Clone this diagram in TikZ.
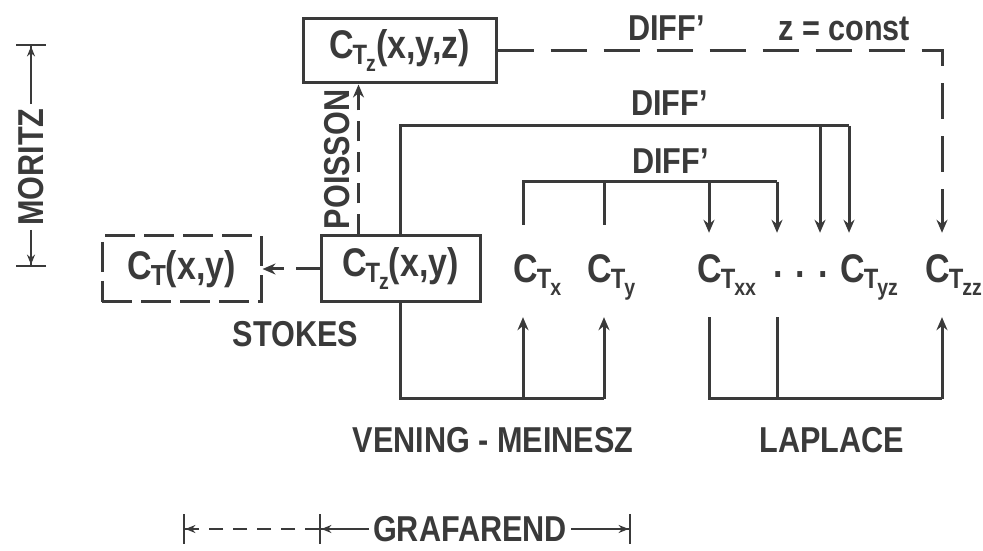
\documentclass[tikz,border=0pt]{standalone}
\usepackage{fontspec}
\setmainfont{Liberation Sans}[FakeStretch=0.85]
\usetikzlibrary{arrows.meta, calc, positioning}
\definecolor{inkcol}{RGB}{58, 58, 58}
\newcommand{\wordfont}{\fontsize{36}{40}\selectfont\bfseries}
\newcommand{\symfont}{\fontsize{40}{44}\selectfont\bfseries}
% C with a T below it, and the T's own index below that
\newcommand{\CTo}{C\kern-1pt\raisebox{-6pt}{\fontsize{29}{29}\selectfont T}}
\newcommand{\CT}[1]{C\kern-1pt\raisebox{-6pt}{\fontsize{28}{28}\selectfont
  T\kern-1pt\raisebox{-7pt}{\fontsize{23}{23}\selectfont #1}}}
\tikzset{
  box/.style   = {draw=inkcol, line width=3pt, text=inkcol, font=\symfont,
                  inner sep=0pt},
  gbox/.style  = {box, minimum width=159pt, minimum height=66pt},
  ghost/.style = {gbox, dash pattern=on 30pt off 9pt},
  % the row of coefficients: fixed height so that every connector stops
  % at the same level above and below
  coef/.style  = {text=inkcol, font=\symfont, anchor=base west,
                  inner xsep=0pt, inner ysep=22pt,
                  text height=28pt, text depth=12pt},
  lbl/.style   = {text=inkcol, font=\wordfont, inner sep=4pt},
  link/.style  = {draw=inkcol, line width=3pt},
  feed/.style  = {link, -{Stealth[length=13pt, width=11pt]}},
  dim/.style   = {draw=inkcol, line width=2.4pt,
                  -{Stealth[length=10pt, width=8pt] Bar[width=30pt]}},
}
\begin{document}
\begin{tikzpicture}[x=1pt, y=1pt]
  \useasboundingbox (0,0) rectangle (983,551);

  %% ================ the boxes ================
  \node[gbox] (czxy) at (400.5,282) {\CT{z}(x,y)};
  \node[ghost, left=57pt of czxy] (ctxy) {\CTo(x,y)};
  \node[box, minimum width=193pt, minimum height=64pt,
        above=150pt of czxy, xshift=-1pt] (czxyz) {\CT{z}(x,y,z)};

  %% ================ the row of derivatives ================
  \node[coef] (ctx)   at (513,268) {\CT{x}};
  \node[coef] (cty)   at (587,268) {\CT{y}};
  \node[coef] (ctxx)  at (697,268) {\CT{xx}};
  \node[coef] (cdots) at (773,268) {\raisebox{5pt}{.\hspace{13pt}.\hspace{13pt}.}};
  \node[coef] (ctyz)  at (840,268) {\CT{yz}};
  \node[coef] (ctzz)  at (925,268) {\CT{zz}};

  % columns and bus levels
  \coordinate (kx)  at (523,0);
  \coordinate (ky)  at (604,0);
  \coordinate (kxx) at (709,0);
  \coordinate (kxy) at (777,0);
  \coordinate (kyz) at (820,0);
  \coordinate (kyy) at (849,0);
  \coordinate (kzz) at (942,0);
  \coordinate (busA) at (0,425);
  \coordinate (busB) at (0,369);
  \coordinate (busD) at (0,152);

  %% ---------------- DIFF' ----------------
  \draw[feed, dash pattern=on 36pt off 17pt] (czxyz.east)
       -| node[lbl, pos=0.19, above=5pt] {DIFF’}
          node[lbl, pos=0.39, above=5pt] {z = const} (ctzz.north -| kzz);

  \draw[link] (czxy.north) |- node[lbl, pos=0.8, above=5pt] {DIFF’} (busA -| kyy);
  \draw[feed] (busA -| kyz) -- (ctyz.north -| kyz);
  \draw[feed] (busA -| kyy) -- (ctyz.north -| kyy);

  \draw[link, shorten <=8pt] (ctx.north -| kx)
       |- node[lbl, pos=0.79, above=3pt] {DIFF’} (busB -| kxy);
  \draw[link, shorten >=8pt] (busB -| ky) -- (cty.north -| ky);
  \draw[feed] (busB -| kxx) -- (ctxx.north -| kxx);
  \draw[feed] (busB -| kxy) -- (cdots.north -| kxy);

  %% ---------------- Vening-Meinesz and Laplace ----------------
  \draw[link] (czxy.south) |- (busD -| ky);
  \draw[feed] (busD -| kx) -- (ctx.south -| kx);
  \draw[feed] (busD -| ky) -- (cty.south -| ky);
  \node[lbl] (vm) at (493,111) {VENING - MEINESZ};

  \draw[link] (ctxx.south -| kxx) |- (busD -| kzz);
  \draw[link] (cdots.south -| kxy) -- (busD -| kxy);
  \draw[feed] (busD -| kzz) -- (ctzz.south -| kzz);
  \node[lbl] (lap) at (832,111) {LAPLACE};

  %% ---------------- Stokes and Poisson ----------------
  \draw[feed, dash pattern=on 24pt off 12pt] (czxy.west) -- (ctxy.east);
  \node[lbl, below=14pt of czxy.south west, xshift=-24pt] (stokes) {STOKES};

  \coordinate[left=42pt of czxy.north] (pfoot);
  \draw[feed, dash pattern=on 20pt off 11pt] (pfoot) -- (pfoot |- czxyz.south)
       node[lbl, midway, rotate=90, anchor=south, outer sep=5pt] {POISSON};

  %% ================ who did what ================
  \node[lbl, rotate=90] (moritz) at (31,384) {MORITZ};
  \coordinate (mtop) at (31,507);
  \coordinate (mbot) at (31,284);
  \draw[dim] (moritz.east) -- (mtop);
  \draw[dim] (moritz.west) -- (mbot);

  \node[lbl] (graf) at (470,22) {GRAFAREND};
  \coordinate (gleft)  at (183,22);
  \coordinate (gtick)  at (319,22);
  \coordinate (gright) at (631,22);
  \draw[dim] (graf.west) -- (gtick);
  \draw[dim, dash pattern=on 14pt off 10pt] (gtick) -- (gleft);
  \draw[dim] (graf.east) -- (gright);

\end{tikzpicture}
\end{document}
